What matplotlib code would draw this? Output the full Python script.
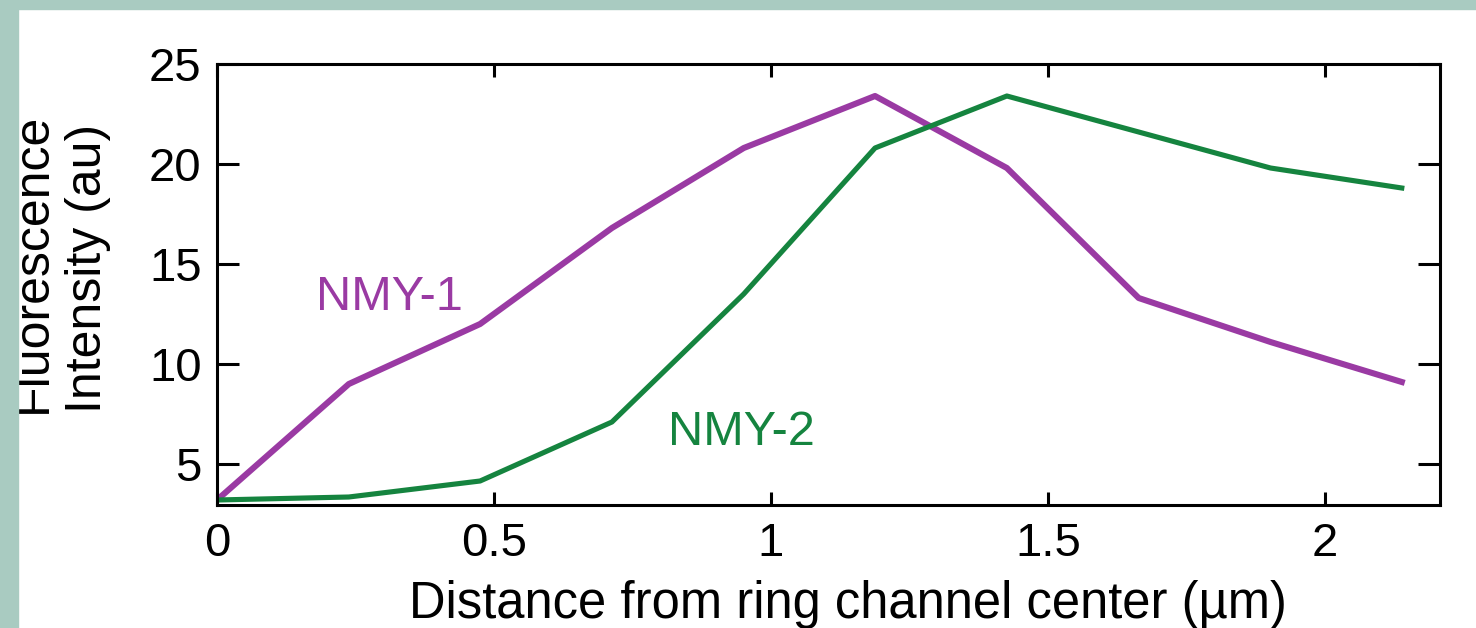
import matplotlib.pyplot as plt
from matplotlib.patches import Rectangle

# distance from ring channel center (um)
distance = [0, 0.238, 0.475, 0.713, 0.951, 1.188, 1.426, 1.664, 1.902, 2.139]
nmy1 = [3.2, 9.0, 12.0, 16.8, 20.8, 23.4, 19.8, 13.3, 11.1, 9.1]
nmy2 = [3.2, 3.35, 4.15, 7.1, 13.5, 20.8, 23.4, 21.6, 19.8, 18.8]

x_ticks = [0, 0.5, 1, 1.5, 2]
x_ticklabels = ["0", "0.5", "1", "1.5", "2"]
y_ticks = [5, 10, 15, 20, 25]

purple = "#9a3aa3"
green = "#15843f"
border = "#a9cbc1"

plt.rcParams["font.family"] = ["Liberation Sans", "DejaVu Sans"]

W, H = 1476, 628
fig = plt.figure(figsize=(W / 100, H / 100), dpi=100)
ax = fig.add_axes([217 / W, 1 - 505 / H, (1440 - 217) / W, (505 - 64) / H])

ax.plot(distance, nmy1, color=purple, linewidth=4.4, solid_joinstyle="round")
ax.plot(distance, nmy2, color=green, linewidth=3.7, solid_joinstyle="round")

ax.text(0.312, 12.7, "NMY-1", color=purple, fontsize=35, ha="center", va="baseline")
ax.text(0.946, 5.95, "NMY-2", color=green, fontsize=35, ha="center", va="baseline")

ax.set_xlim(0, 2.208)
ax.set_ylim(2.95, 25)
ax.set_xticks(x_ticks)
ax.set_xticklabels(x_ticklabels)
ax.set_yticks(y_ticks)
ax.tick_params(direction="in", top=True, right=True, width=2.2, labelsize=34)
ax.tick_params(axis="x", length=9.5, pad=12)
ax.tick_params(axis="y", length=16, pad=11)
for s in ax.spines.values():
    s.set_linewidth(2.2)

fig.text(848 / W, 1 - 618 / H, "Distance from ring channel center (µm)",
         fontsize=36.5, ha="center", va="baseline")
fig.text(111 / W, 1 - 413 / H, "Fluorescence\nIntensity (au)", fontsize=36,
         rotation=90, ha="right", va="bottom", multialignment="left",
         linespacing=1.25)

# teal frame around the panel
fig.patches.append(Rectangle((0, 0), 18 / W, 1, transform=fig.transFigure,
                             color=border, zorder=10))
fig.patches.append(Rectangle((0, 1 - 9 / H), 1, 9 / H, transform=fig.transFigure,
                             color=border, zorder=10))

fig.savefig("out.png", dpi=100)
